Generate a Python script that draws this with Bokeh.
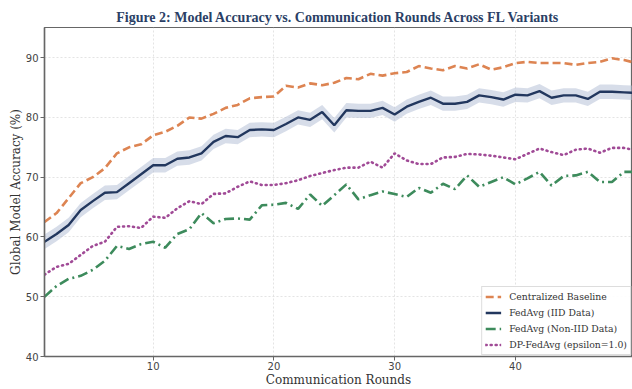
import numpy as np
from bokeh.plotting import figure
from bokeh.models import Range1d, Legend, LegendItem, FixedTicker, ColumnDataSource
from bokeh.embed import file_html
from bokeh.resources import INLINE

rounds = list(range(1, 51))

centralized = [62.5, 64.0, 66.5, 69.0, 70.0, 71.5, 74.0, 75.0, 75.5, 77.0,
               77.6, 78.6, 80.0, 79.8, 80.6, 81.6, 82.1, 83.2, 83.4, 83.5,
               85.3, 85.0, 85.7, 85.4, 85.8, 86.6, 86.4, 87.3, 87.0, 87.4,
               87.6, 88.6, 88.2, 87.9, 88.6, 88.2, 88.9, 88.0, 88.4, 89.1,
               89.3, 89.1, 89.1, 89.1, 88.8, 89.1, 89.3, 89.9, 89.6, 89.1]

fedavg_iid = [59.2, 60.5, 62.0, 64.5, 66.0, 67.4, 67.5, 69.0, 70.5, 72.0,
              72.0, 73.1, 73.3, 74.0, 75.9, 76.9, 76.7, 77.9, 78.0, 77.9,
              78.9, 80.0, 79.6, 80.9, 78.7, 81.2, 81.1, 81.1, 81.6, 80.5,
              81.8, 82.6, 83.3, 82.3, 82.3, 82.6, 83.7, 83.4, 83.0, 83.8,
              83.7, 84.4, 83.3, 83.7, 83.7, 83.1, 84.3, 84.3, 84.2, 84.1]

iid_std = [1.2] * 50

fedavg_noniid = [50.0, 51.8, 53.0, 53.5, 54.5, 56.0, 58.5, 58.0, 58.8, 59.2,
                 58.2, 60.5, 61.3, 64.0, 62.3, 63.0, 63.1, 62.9, 65.3, 65.4,
                 65.7, 64.7, 67.1, 65.2, 67.0, 68.8, 66.3, 67.0, 67.6, 67.2,
                 66.7, 68.2, 67.4, 68.9, 68.0, 70.3, 68.4, 69.2, 70.0, 68.8,
                 69.8, 70.9, 68.6, 70.2, 70.3, 70.9, 69.2, 69.2, 70.9, 70.9]

dp_fedavg = [53.7, 55.0, 55.5, 57.0, 58.5, 59.2, 61.7, 61.8, 61.5, 63.4,
             63.2, 64.8, 66.0, 65.5, 67.2, 67.3, 68.4, 69.3, 68.7, 68.7,
             69.0, 69.5, 70.2, 70.7, 71.2, 71.6, 71.6, 72.6, 71.6, 74.0,
             72.8, 72.2, 72.2, 73.3, 73.4, 73.9, 73.8, 73.6, 73.3, 73.0,
             73.9, 74.8, 74.2, 73.7, 74.6, 74.8, 74.1, 74.9, 74.9, 74.5]

series_names = ["Centralized Baseline", "FedAvg (IID Data)",
                "FedAvg (Non-IID Data)", "DP-FedAvg (epsilon=1.0)"]
x_ticks = [10, 20, 30, 40, 50]
y_ticks = [40, 50, 60, 70, 80, 90]

title_text = "Figure 2: Model Accuracy vs. Communication Rounds Across FL Variants"

p = figure(width=632, height=389, output_backend="svg", toolbar_location=None,
           x_range=Range1d(1, 49.7), y_range=Range1d(40, 95.05),
           min_border_left=44, min_border_right=0, min_border_top=27,
           min_border_bottom=32, background_fill_color="white",
           border_fill_color="white")

p.title.text = title_text
p.title.align = "center"
p.title.text_font = "Liberation Serif"
p.title.text_font_style = "bold"
p.title.text_font_size = "14px"
p.title.text_color = "#2B3F66"
p.title.offset = 0
p.title.standoff = 5

p.outline_line_color = "#666666"
p.outline_line_width = 1.2

for ax in (p.xaxis[0], p.yaxis[0]):
    ax.axis_line_color = "#666666"
    ax.axis_line_width = 1.5
    ax.major_tick_line_color = "#666666"
    ax.major_tick_out = 4
    ax.major_tick_in = 0
    ax.minor_tick_line_color = None
    ax.major_label_text_font = "DejaVu Sans"
    ax.major_label_text_font_size = "10px"
    ax.major_label_text_color = "#444444"
    ax.axis_label_text_font = "DejaVu Serif"
    ax.axis_label_text_font_style = "normal"
    ax.axis_label_text_font_size = "12px"
    ax.axis_label_text_color = "#333333"

p.xaxis.ticker = FixedTicker(ticks=x_ticks)
p.yaxis.ticker = FixedTicker(ticks=y_ticks)
p.xaxis.axis_label = "Communication Rounds"
p.yaxis.axis_label = "Global Model Accuracy (%)"
p.xaxis.axis_label_standoff = 0
p.yaxis.axis_label_standoff = 0
p.xaxis.major_label_standoff = 1
p.yaxis.major_label_standoff = 2

p.xgrid.grid_line_color = "#dddddd"
p.ygrid.grid_line_color = "#dddddd"
p.xgrid.grid_line_dash = "2 2"
p.ygrid.grid_line_dash = "2 2"
p.xgrid.grid_line_alpha = 0.8
p.ygrid.grid_line_alpha = 0.8
p.xgrid.ticker = FixedTicker(ticks=x_ticks)
p.ygrid.ticker = FixedTicker(ticks=y_ticks)

iid = np.array(fedavg_iid)
std = np.array(iid_std)
src = ColumnDataSource(dict(x=rounds, lo=iid - std, hi=iid + std))
p.varea(x="x", y1="lo", y2="hi", source=src, fill_color="#AFBCD3", fill_alpha=0.5)

r_c = p.line(rounds, centralized, line_color="#DD8452", line_width=2.6,
             line_dash="8 4")
r_i = p.line(rounds, fedavg_iid, line_color="#22375E", line_width=2.4)
r_n = p.line(rounds, fedavg_noniid, line_color="#3D8B5C", line_width=2.6,
             line_dash="10 4 2 4")
r_d = p.line(rounds, dp_fedavg, line_color="#A04A96", line_width=2.6,
             line_dash="1 4", line_cap="round")

legend = Legend(items=[LegendItem(label=series_names[0], renderers=[r_c]),
                       LegendItem(label=series_names[1], renderers=[r_i]),
                       LegendItem(label=series_names[2], renderers=[r_n]),
                       LegendItem(label=series_names[3], renderers=[r_d])],
                location="bottom_right")
legend.label_text_font = "DejaVu Serif"
legend.label_text_font_size = "9.3px"
legend.label_text_color = "#333333"
legend.border_line_color = "#bbbbbb"
legend.background_fill_alpha = 0.9
legend.glyph_width = 16
legend.glyph_height = 13
legend.label_height = 13
legend.label_standoff = 8
legend.spacing = 3
legend.padding = 3
legend.margin = 1
p.add_layout(legend)

open("out.html", "w").write(file_html(p, INLINE))
